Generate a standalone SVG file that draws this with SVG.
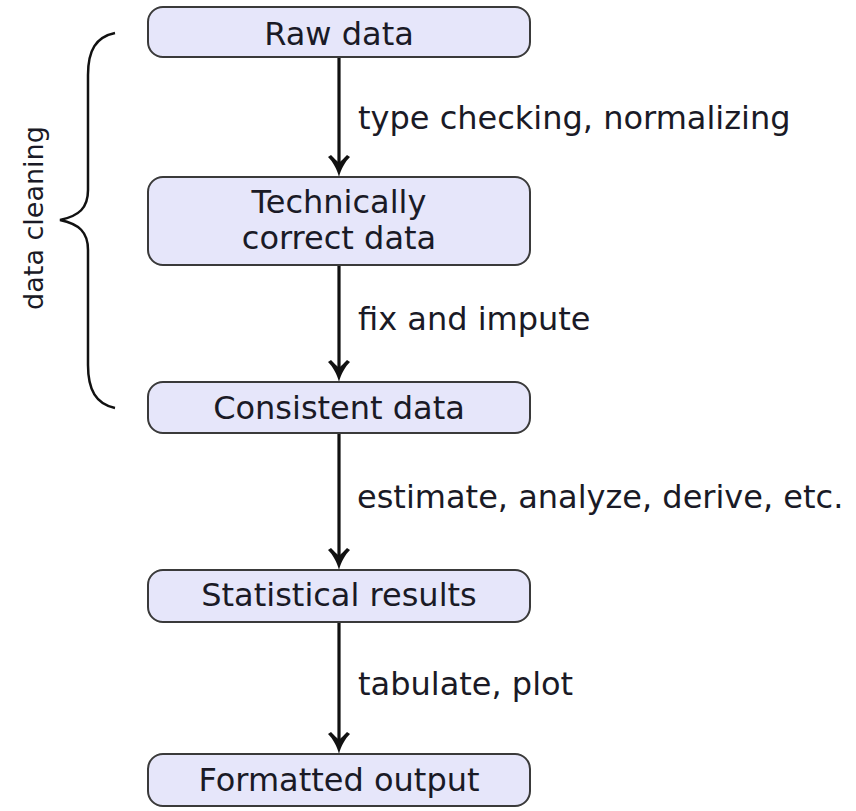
<svg xmlns="http://www.w3.org/2000/svg" width="856" height="811" viewBox="0 0 856 811">
<style>
  .box { fill: #e6e6fa; stroke: #3a3a3a; stroke-width: 2; }
  .nt { font-family: "DejaVu Sans", "Liberation Sans", sans-serif; font-size: 32px; fill: #1a1a26; text-anchor: middle; }
  .lbl { font-family: "DejaVu Sans", "Liberation Sans", sans-serif; font-size: 32px; fill: #1a1a26; }
  .edge { stroke: #111; stroke-width: 3.2; fill: none; }
  .head { fill: #111; }
  .brace { stroke: #111; stroke-width: 2.5; fill: none; }
</style>
<defs>
  <path id="ah" d="M0,0 C-2,-8 -6,-15 -11,-20 L-8,-22 C-5,-19 -2,-16 0,-14 C2,-16 5,-19 8,-22 L11,-20 C6,-15 2,-8 0,0 Z"/>
</defs>
<rect width="856" height="811" fill="#ffffff"/>

<g id="connectors">
  <line class="edge" x1="339" y1="57" x2="339" y2="170"/>
  <use href="#ah" class="head" x="339" y="177"/>
  <line class="edge" x1="339" y1="265" x2="339" y2="375"/>
  <use href="#ah" class="head" x="339" y="382"/>
  <line class="edge" x1="339" y1="433" x2="339" y2="563"/>
  <use href="#ah" class="head" x="339" y="570"/>
  <line class="edge" x1="339" y1="622" x2="339" y2="747"/>
  <use href="#ah" class="head" x="339" y="754"/>
  <text class="lbl" x="358" y="129">type checking, normalizing</text>
  <text class="lbl" x="358" y="330">fix and impute</text>
  <text class="lbl" x="357" y="508">estimate, analyze, derive, etc.</text>
  <text class="lbl" x="358" y="695">tabulate, plot</text>
</g>

<g id="brace-data-cleaning">
  <path class="brace" d="M115,33 C96,37 88,50 88,75 L88,190 C88,208 79,216 60,220 C79,224 88,232 88,250 L88,365 C88,390 96,404 115,408"/>
  <text class="lbl" style="font-size:27px" text-anchor="middle" transform="translate(43,218) rotate(-90)">data cleaning</text>
</g>

<g id="raw-data">
  <rect class="box" x="148" y="7" width="382" height="50" rx="15"/>
  <text class="nt" x="339" y="45">Raw data</text>
</g>
<g id="technically-correct-data">
  <rect class="box" x="148" y="177" width="382" height="88" rx="15"/>
  <text class="nt" x="339" y="213">Technically</text>
  <text class="nt" x="339" y="249">correct data</text>
</g>
<g id="consistent-data">
  <rect class="box" x="148" y="382" width="382" height="51" rx="15"/>
  <text class="nt" x="339" y="419">Consistent data</text>
</g>
<g id="statistical-results">
  <rect class="box" x="148" y="570" width="382" height="52" rx="15"/>
  <text class="nt" x="339" y="606">Statistical results</text>
</g>
<g id="formatted-output">
  <rect class="box" x="148" y="754" width="382" height="52" rx="15"/>
  <text class="nt" x="339" y="791">Formatted output</text>
</g>
</svg>
